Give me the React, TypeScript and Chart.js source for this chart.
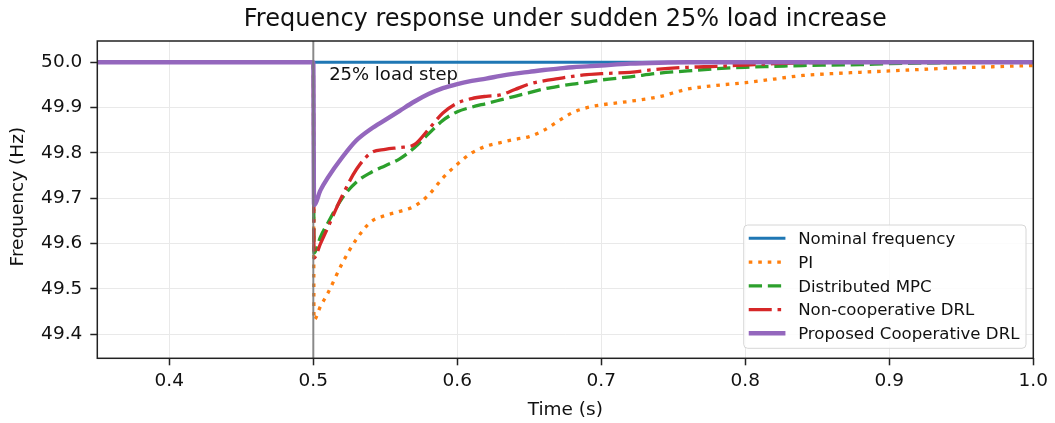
import React, { useEffect, useRef } from 'react';
import { Chart, registerables } from 'chart.js';

Chart.register(...registerables);

// ---- text ----
const TITLE = 'Frequency response under sudden 25% load increase';
const X_LABEL = 'Time (s)';
const Y_LABEL = 'Frequency (Hz)';
const STEP_LABEL = '25% load step';
const STEP_TIME = 0.5;
const STEP_LABEL_AT = [0.511, 49.961];

// ---- axes ----
const xTicks = [0.4, 0.5, 0.6, 0.7, 0.8, 0.9, 1.0];
const yTicks = [49.4, 49.5, 49.6, 49.7, 49.8, 49.9, 50.0];
const X_RANGE = [0.35, 1.0];
const Y_RANGE = [49.347, 50.047];

// ---- series (time in s, frequency in Hz) ----
const nominalTime = [0.35, 1.0];
const nominal = [50.0, 50.0];

const time = [
  0.35, 0.5, 0.5005, 0.505, 0.51, 0.52, 0.53, 0.54, 0.55, 0.56, 0.57, 0.58,
  0.59, 0.6, 0.61, 0.62, 0.63, 0.64, 0.65, 0.66, 0.67, 0.68, 0.69, 0.7,
  0.72, 0.74, 0.76, 0.78, 0.8, 0.82, 0.84, 0.86, 0.88, 0.9, 0.92, 0.94,
  0.96, 0.98, 1.0,
];

const pi = [
  50.0, 50.0, 49.432, 49.462, 49.49, 49.556, 49.61, 49.648, 49.662, 49.671, 49.682, 49.707,
  49.745, 49.775, 49.8, 49.815, 49.823, 49.83, 49.836, 49.85, 49.87, 49.889, 49.9, 49.906,
  49.914, 49.924, 49.941, 49.949, 49.955, 49.963, 49.971, 49.975, 49.978, 49.981, 49.984, 49.987,
  49.989, 49.991, 49.993,
];

const mpc = [
  50.0, 50.0, 49.579, 49.615, 49.645, 49.7, 49.736, 49.757, 49.772, 49.787, 49.811, 49.842,
  49.872, 49.891, 49.901, 49.909, 49.917, 49.925, 49.933, 49.941, 49.947, 49.952, 49.956, 49.961,
  49.968, 49.976, 49.981, 49.986, 49.989, 49.991, 49.993, 49.994, 49.995, 49.997, 49.998, 49.999,
  50.0, 50.0, 50.0,
];

const nonCoop = [
  50.0, 50.0, 49.568, 49.6, 49.635, 49.705, 49.764, 49.8, 49.808, 49.812, 49.818, 49.852,
  49.888, 49.91, 49.92, 49.925, 49.928, 49.94, 49.952, 49.959, 49.964, 49.969, 49.973, 49.975,
  49.978, 49.985, 49.989, 49.991, 49.994, 49.997, 49.999, 50.0, 50.0, 50.0, 50.0, 50.0,
  50.0, 50.0, 50.0,
];

const coop = [
  50.0, 50.0, 49.685, 49.718, 49.745, 49.79, 49.828, 49.853, 49.873, 49.893, 49.913, 49.93,
  49.943, 49.952, 49.959, 49.964, 49.97, 49.975, 49.979, 49.983, 49.986, 49.989, 49.991, 49.993,
  49.997, 49.999, 50.0, 50.0, 50.0, 50.0, 50.0, 50.0, 50.0, 50.0, 50.0, 50.0,
  50.0, 50.0, 50.0,
];

const FONT = '"DejaVu Sans", "Liberation Sans", sans-serif';
const TEXT = '#111111';

type Series = {
  label: string;
  t: number[];
  v: number[];
  color: string;
  width: number;
  dash: number[];
};

const series: Series[] = [
  { label: 'Nominal frequency', t: nominalTime, v: nominal, color: '#1f77b4', width: 3, dash: [] },
  { label: 'PI', t: time, v: pi, color: '#ff7f0e', width: 3.3, dash: [3.6, 5.9] },
  { label: 'Distributed MPC', t: time, v: mpc, color: '#2ca02c', width: 3.3, dash: [13.3, 5.8] },
  { label: 'Non-cooperative DRL', t: time, v: nonCoop, color: '#d62728', width: 3.3, dash: [23, 5.8, 3.6, 5.8] },
  { label: 'Proposed Cooperative DRL', t: time, v: coop, color: '#9467bd', width: 4.4, dash: [] },
];

// Frame, step marker, in-axes legend, title and axis titles.
const decorations = {
  id: 'decorations',
  afterDatasetsDraw(chart: any) {
    const { ctx, chartArea: a, scales } = chart;
    const x = scales.x;
    const y = scales.y;
    ctx.save();

    // load-step marker
    const sx = x.getPixelForValue(STEP_TIME);
    ctx.strokeStyle = 'rgba(120,120,120,0.85)';
    ctx.lineWidth = 2;
    ctx.beginPath();
    ctx.moveTo(sx, a.top);
    ctx.lineTo(sx, a.bottom);
    ctx.stroke();

    ctx.fillStyle = TEXT;
    ctx.font = `18px ${FONT}`;
    ctx.textAlign = 'left';
    ctx.textBaseline = 'alphabetic';
    ctx.fillText(STEP_LABEL, x.getPixelForValue(STEP_LABEL_AT[0]), y.getPixelForValue(STEP_LABEL_AT[1]));

    // axes frame
    ctx.strokeStyle = '#222';
    ctx.lineWidth = 1.5;
    ctx.strokeRect(a.left, a.top, a.right - a.left, a.bottom - a.top);

    // legend (lower right)
    ctx.font = `16.6px ${FONT}`;
    const textW = Math.max(...series.map((s) => ctx.measureText(s.label).width));
    const boxW = 54.4 + textW + 6.6;
    const boxH = 123.3;
    const bx = a.right - 7.3 - boxW;
    const by = a.bottom - 10 - boxH;
    ctx.beginPath();
    ctx.roundRect(bx, by, boxW, boxH, 4);
    ctx.fillStyle = 'rgba(255,255,255,0.85)';
    ctx.fill();
    ctx.strokeStyle = '#d6d6d6';
    ctx.lineWidth = 1;
    ctx.stroke();
    series.forEach((s, i) => {
      const ry = by + 13.3 + i * 23.75;
      ctx.beginPath();
      ctx.strokeStyle = s.color;
      ctx.lineWidth = s.width;
      ctx.setLineDash(s.dash);
      ctx.moveTo(bx + 5, ry);
      ctx.lineTo(bx + 41.7, ry);
      ctx.stroke();
      ctx.setLineDash([]);
      ctx.fillStyle = TEXT;
      ctx.textAlign = 'left';
      ctx.textBaseline = 'alphabetic';
      ctx.fillText(s.label, bx + 54.4, ry + 5.8);
    });

    // title
    const cx = (a.left + a.right) / 2;
    ctx.fillStyle = TEXT;
    ctx.textAlign = 'center';
    ctx.textBaseline = 'alphabetic';
    ctx.font = `24px ${FONT}`;
    ctx.fillText(TITLE, cx, 26);

    // axis titles
    ctx.font = `18.5px ${FONT}`;
    ctx.fillText(X_LABEL, cx, 415);
    ctx.save();
    ctx.translate(22.6, (a.top + a.bottom) / 2 - 3);
    ctx.rotate(-Math.PI / 2);
    ctx.fillText(Y_LABEL, 0, 0);
    ctx.restore();

    ctx.restore();
  },
};

export default function App() {
  const canvasRef = useRef<HTMLCanvasElement | null>(null);

  useEffect(() => {
    const canvas = canvasRef.current;
    if (!canvas) return;

    // draw order: the last series in the list ends up on top
    const datasets = series.map((s, i) => ({
      label: s.label,
      data: s.t.map((t, k) => ({ x: t, y: s.v[k] })),
      borderColor: s.color,
      backgroundColor: s.color,
      borderWidth: s.width,
      borderDash: s.dash,
      borderCapStyle: 'butt' as const,
      pointRadius: 0,
      fill: false,
      order: series.length - i,
      cubicInterpolationMode: 'monotone' as const,
    }));

    const gridStyle = {
      color: '#e9e9e9',
      lineWidth: 1,
      drawTicks: true,
      tickLength: 7,
      tickColor: '#222',
      tickWidth: 1.5,
    };

    const chart = new Chart(canvas, {
      type: 'line',
      data: { datasets },
      plugins: [decorations],
      options: {
        responsive: false,
        animation: false,
        devicePixelRatio: 1,
        layout: { padding: { top: 41, right: 21.7, left: 0, bottom: 0 } },
        plugins: {
          legend: { display: false },
          title: { display: false },
          tooltip: { enabled: false },
        },
        scales: {
          x: {
            type: 'linear',
            min: X_RANGE[0],
            max: X_RANGE[1],
            afterBuildTicks: (s: any) => {
              s.ticks = xTicks.map((v) => ({ value: v }));
            },
            afterFit: (s: any) => {
              s.height = 64.7;
            },
            grid: gridStyle,
            border: { display: false },
            ticks: {
              autoSkip: false,
              maxRotation: 0,
              padding: 5,
              color: TEXT,
              font: { family: FONT, size: 18.5 },
              callback: (v: any) => Number(v).toFixed(1),
            },
          },
          y: {
            type: 'linear',
            min: Y_RANGE[0],
            max: Y_RANGE[1],
            afterBuildTicks: (s: any) => {
              s.ticks = yTicks.map((v) => ({ value: v }));
            },
            afterFit: (s: any) => {
              s.width = 97.3;
            },
            grid: gridStyle,
            border: { display: false },
            ticks: {
              autoSkip: false,
              padding: 8,
              color: TEXT,
              font: { family: FONT, size: 18.5 },
              callback: (v: any) => Number(v).toFixed(1),
            },
          },
        },
      },
    });

    return () => chart.destroy();
  }, []);

  return (
    <div
      style={{
        position: 'fixed',
        left: 0,
        top: 0,
        width: 1055,
        height: 423,
        background: '#ffffff',
      }}
    >
      <canvas ref={canvasRef} width={1055} height={423} style={{ display: 'block' }} />
    </div>
  );
}
